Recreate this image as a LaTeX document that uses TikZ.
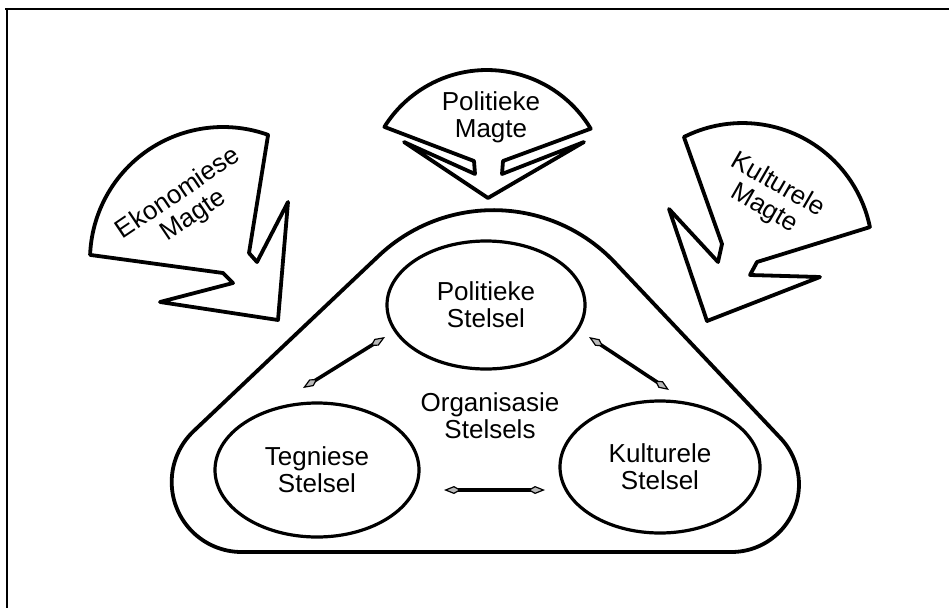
\documentclass[tikz,border=0pt]{standalone}
\usepackage{fontspec}
\setmainfont{Liberation Sans}
\usetikzlibrary{arrows.meta,shapes.geometric}
\begin{document}
\begin{tikzpicture}[x=1pt,y=-1pt,
  lbl/.style={font=\fontsize{26}{27}\selectfont, align=center, inner sep=0pt},
  sysnode/.style={draw, ellipse, line width=3.2pt, inner sep=0pt,
    font=\fontsize{26}{27}\selectfont, align=center},
  force/.style={draw, line width=3.8pt, line join=round},
  ring/.style={draw, line width=3.8pt},
  frameline/.style={draw, line width=2.5pt},
  dblarrow/.style={line width=3.6pt,
    >={Kite[length=17pt,width=8pt,inset=7pt,fill=gray!55,line width=1.2pt]}, <->}
]
\useasboundingbox (0,0) rectangle (949,608);

% frame: top and left rule
\draw[frameline] (5,9) -- (949,9);
\draw[frameline] (7,9) -- (7,608);

% outer rounded triangle (organisation systems)
\draw[ring] (378.7,255.8) arc[start angle=-133.4, end angle=-43.4, radius=167]
  -- (780.6,438.2) arc[start angle=-43.3, end angle=90, radius=67.5]
  -- (241.7,552) arc[start angle=90, end angle=226.6, radius=70]
  -- cycle;

% the three systems
\node[sysnode, minimum width=198pt, minimum height=128pt] (pol) at (486,305) {Politieke\\Stelsel};
\node[sysnode, minimum width=204pt, minimum height=134pt] (teg) at (317,470) {Tegniese\\Stelsel};
\node[sysnode, minimum width=200pt, minimum height=132pt] (kul) at (660,467) {Kulturele\\Stelsel};
\node[lbl] (org) at (490,416) {Organisasie\\Stelsels};

% interactions between the systems
\coordinate (a1) at (303,388);
\coordinate (a2) at (385,337);
\coordinate (b1) at (589,337);
\coordinate (b2) at (669,390);
\coordinate (c1) at (444,490);
\coordinate (c2) at (545,490);
\draw[dblarrow] (a1) -- (a2);
\draw[dblarrow] (b1) -- (b2);
\draw[dblarrow] (c1) -- (c2);

% political forces (fan with arrow head pointing down)
\draw[force] (384.4,126.9) -- (474,161) -- (475,174) -- (404,142) -- (488,198)
  -- (584,142) -- (502,174) -- (503,161) -- (590.7,128.7)
  arc[start angle=-31, end angle=-148, radius=121] -- cycle;
\node[lbl] (pm) at (491,117) {Politieke\\Magte};

% economic forces (fan with arrow head pointing down-right)
\draw[force] (268.1,134.9) -- (249,253) -- (257,262) -- (288,202) -- (278,320)
  -- (160,302) -- (233,283) -- (223,273) -- (90.1,254.9)
  arc[start angle=182.2, end angle=289.8, radius=133] -- cycle;
\node[lbl, rotate=34] (em) at (186,205) {Ekonomiese\\Magte};

% cultural forces (fan with arrow head pointing down-left)
\draw[force] (869.9,227.1) -- (757,262) -- (750,275) -- (820,277) -- (707,321)
  -- (669,209) -- (718,262) -- (722,244) -- (683.9,137)
  arc[start angle=-116.8, end angle=-11.5, radius=130] -- cycle;
\node[lbl, rotate=-30] (km) at (771,197) {Kulturele\\Magte};
\end{tikzpicture}
\end{document}
